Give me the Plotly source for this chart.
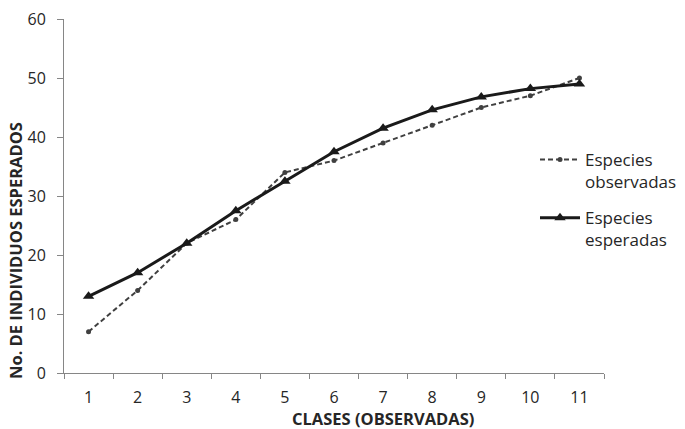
import plotly.graph_objects as go

clases = ["1", "2", "3", "4", "5", "6", "7", "8", "9", "10", "11"]
observadas = [7, 14, 22, 26, 34, 36, 39, 42, 45, 47, 50]
esperadas = [13, 17, 22, 27.5, 32.5, 37.5, 41.5, 44.6, 46.8, 48.2, 49]
y_ticks = [0, 10, 20, 30, 40, 50, 60]

FONT = "Open Sans, Liberation Sans, sans-serif"

W, H = 685, 429
ML, MR, MT, MB = 64, 81, 19, 56
PW, PH = W - ML - MR, H - MT - MB

fig = go.Figure()
fig.add_trace(go.Scatter(
    x=clases, y=observadas, name="Especies<br>observadas",
    mode="lines+markers", legendgroup="obs",
    line=dict(color="#404040", width=2, dash="5px,3px"),
    marker=dict(symbol="circle", size=5, color="#404040"),
))
fig.add_trace(go.Scatter(
    x=clases, y=esperadas, name="Especies<br>esperadas",
    mode="lines+markers", legendgroup="esp",
    line=dict(color="#1a1a1a", width=3),
    marker=dict(symbol="triangle-up", size=10, color="#1a1a1a"),
))

fig.update_layout(
    width=W, height=H,
    margin=dict(l=ML, r=MR, t=MT, b=MB, autoexpand=False),
    paper_bgcolor="white", plot_bgcolor="white",
    font=dict(family=FONT, size=15, color="#262626"),
    legend=dict(x=(535 - ML) / PW, y=(H - MB - 142) / PH,
                xanchor="left", yanchor="top", valign="top",
                font=dict(size=17, color="#262626"),
                tracegroupgap=11, itemwidth=40,
                bgcolor="rgba(0,0,0,0)"),
    xaxis=dict(type="category", range=[-0.5, 10.5], automargin=False,
               tickson="boundaries", ticks="outside", ticklen=5,
               tickcolor="#868686", showline=True, linecolor="#868686",
               linewidth=1, showgrid=False, zeroline=False,
               ticklabelstandoff=10,
               tickfont=dict(size=16, color="#262626")),
    yaxis=dict(range=[0, 60], tickvals=y_ticks, ticks="outside", ticklen=6,
               automargin=False,
               tickcolor="#868686", showline=True, linecolor="#868686",
               linewidth=1, showgrid=False, zeroline=False,
               ticklabelstandoff=8, ticklabeloverflow="allow",
               tickfont=dict(size=16, color="#262626")),
    annotations=[
        dict(text="<b>No. DE INDIVIDUOS ESPERADOS</b>",
             xref="paper", yref="paper",
             x=(16 - ML) / PW, y=(H - MB - 251) / PH,
             xanchor="center", yanchor="middle",
             textangle=-90, showarrow=False,
             font=dict(size=16.5, color="#262626")),
        dict(text="<b>CLASES (OBSERVADAS)</b>",
             xref="paper", yref="paper",
             x=(383 - ML) / PW, y=(H - MB - 418) / PH,
             xanchor="center", yanchor="middle", showarrow=False,
             font=dict(size=16.5, color="#262626")),
    ],
)

fig.write_html("out.html",
               config={"displayModeBar": False},
               post_script="document.body.style.margin='0';document.body.style.overflow='hidden';")
